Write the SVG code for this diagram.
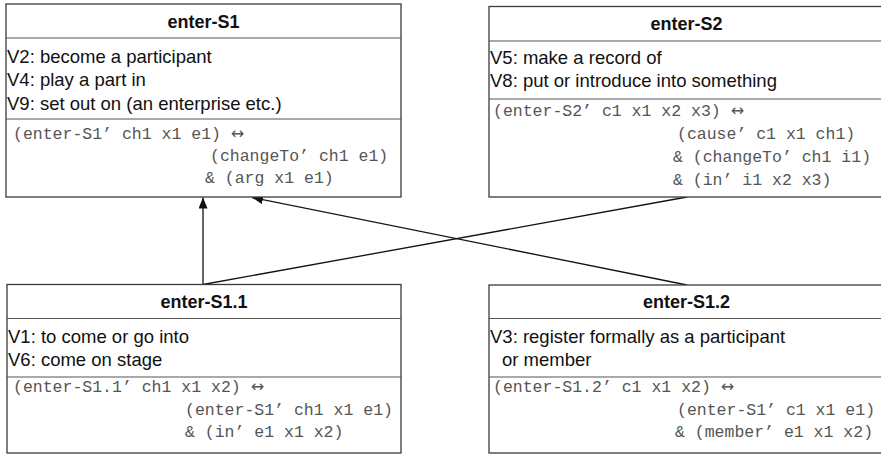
<svg xmlns="http://www.w3.org/2000/svg" width="881" height="454" viewBox="0 0 881 454">
  <style>
    .box { fill: #ffffff; stroke: #3a3a3a; stroke-width: 1.3; }
    .sep { stroke: #555555; stroke-width: 1.2; }
    .title { font-family: "Liberation Sans", Arial, sans-serif; font-size: 18px; font-weight: bold; fill: #111111; text-anchor: middle; }
    .body { font-family: "Liberation Sans", Arial, sans-serif; font-size: 18.5px; fill: #111111; }
    .code { font-family: "Liberation Mono", "DejaVu Sans Mono", monospace; font-size: 16.5px; fill: #555555; }
    .iff { font-family: "DejaVu Sans", sans-serif; font-size: 16px; fill: #555555; }
    .edge { stroke: #111111; stroke-width: 1.3; fill: none; }
  </style>
  <defs>
    <marker id="arrow" markerWidth="11" markerHeight="9" refX="11" refY="4.5" orient="auto" markerUnits="userSpaceOnUse">
      <path d="M0,0 L11,4.5 L0,9 Z" fill="#111111"/>
    </marker>
  </defs>

  <rect width="881" height="454" fill="#ffffff"/>

  <!-- connectors -->
  <g id="connectors">
    <line class="edge" x1="203" y1="284.5" x2="203" y2="197.5" marker-end="url(#arrow)"/>
    <line class="edge" x1="687" y1="285" x2="252" y2="197.5" marker-end="url(#arrow)"/>
    <line class="edge" x1="203" y1="284.5" x2="687" y2="197"/>
  </g>

  <!-- enter-S1 -->
  <g id="enter-S1">
    <rect class="box" x="6" y="4" width="395" height="193"/>
    <line class="sep" x1="6" y1="38" x2="401" y2="38"/>
    <line class="sep" x1="6" y1="119" x2="401" y2="119"/>
    <text class="title" x="203.5" y="27.5">enter-S1</text>
    <text class="body" x="7" y="62.5">V2: become a participant</text>
    <text class="body" x="7" y="86">V4: play a part in</text>
    <text class="body" x="7" y="110">V9: set out on (an enterprise etc.)</text>
    <text class="code" x="13" y="139">(enter-S1’ ch1 x1 e1) <tspan class="iff">↔</tspan></text>
    <text class="code" x="210" y="161">(changeTo’ ch1 e1)</text>
    <text class="code" x="205" y="183">&amp; (arg x1 e1)</text>
  </g>

  <!-- enter-S2 -->
  <g id="enter-S2">
    <rect class="box" x="489" y="6.5" width="395" height="190.5"/>
    <line class="sep" x1="489" y1="41" x2="884" y2="41"/>
    <line class="sep" x1="489" y1="99" x2="884" y2="99"/>
    <text class="title" x="686.5" y="30">enter-S2</text>
    <text class="body" x="490" y="63.5">V5: make a record of</text>
    <text class="body" x="490" y="86.5">V8: put or introduce into something</text>
    <text class="code" x="493" y="116">(enter-S2’ c1 x1 x2 x3) <tspan class="iff">↔</tspan></text>
    <text class="code" x="677" y="139">(cause’ c1 x1 ch1)</text>
    <text class="code" x="673" y="162">&amp; (changeTo’ ch1 i1)</text>
    <text class="code" x="673" y="185">&amp; (in’ i1 x2 x3)</text>
  </g>

  <!-- enter-S1.1 -->
  <g id="enter-S1.1">
    <rect class="box" x="7" y="284.5" width="394" height="168.5"/>
    <line class="sep" x1="7" y1="318.5" x2="401" y2="318.5"/>
    <line class="sep" x1="7" y1="377" x2="401" y2="377"/>
    <text class="title" x="204" y="307.5">enter-S1.1</text>
    <text class="body" x="8" y="343">V1: to come or go into</text>
    <text class="body" x="8" y="366">V6: come on stage</text>
    <text class="code" x="13" y="392">(enter-S1.1’ ch1 x1 x2) <tspan class="iff">↔</tspan></text>
    <text class="code" x="185" y="415">(enter-S1’ ch1 x1 e1)</text>
    <text class="code" x="185" y="437">&amp; (in’ e1 x1 x2)</text>
  </g>

  <!-- enter-S1.2 -->
  <g id="enter-S1.2">
    <rect class="box" x="489" y="285" width="395" height="168"/>
    <line class="sep" x1="489" y1="318.5" x2="884" y2="318.5"/>
    <line class="sep" x1="489" y1="377" x2="884" y2="377"/>
    <text class="title" x="686.5" y="307.5">enter-S1.2</text>
    <text class="body" x="490" y="343">V3: register formally as a participant</text>
    <text class="body" x="502" y="366">or member</text>
    <text class="code" x="493" y="392">(enter-S1.2’ c1 x1 x2) <tspan class="iff">↔</tspan></text>
    <text class="code" x="677" y="415">(enter-S1’ c1 x1 e1)</text>
    <text class="code" x="675" y="437">&amp; (member’ e1 x1 x2)</text>
  </g>
</svg>
